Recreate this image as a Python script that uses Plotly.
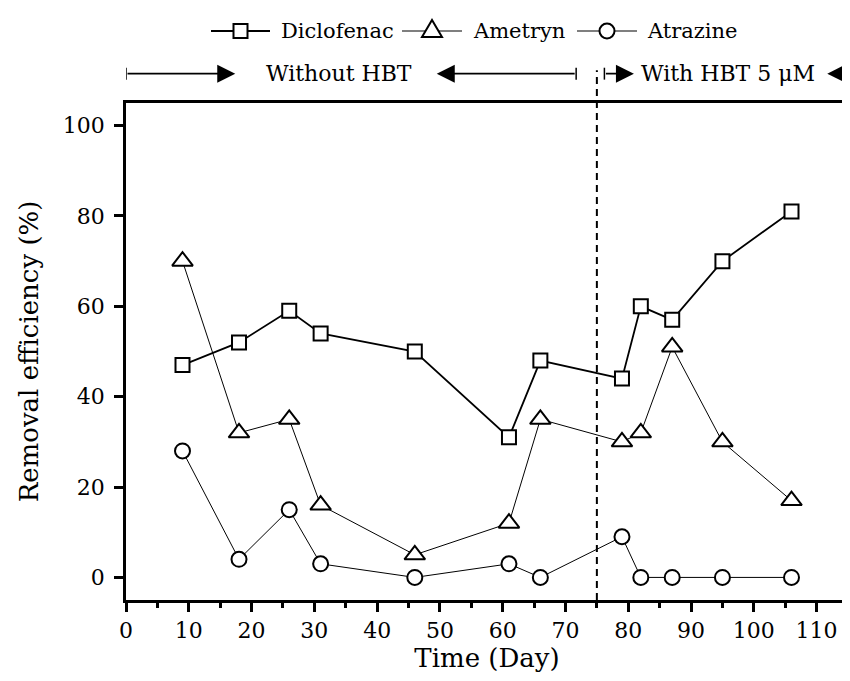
import plotly.graph_objects as go

days = [9, 18, 26, 31, 46, 61, 66, 79, 82, 87, 95, 106]
diclofenac = [47, 52, 59, 54, 50, 31, 48, 44, 60, 57, 70, 81]
ametryn = [70, 32, 35, 16, 5, 12, 35, 30, 32, 51, 30, 17]
atrazine = [28, 4, 15, 3, 0, 3, 0, 9, 0, 0, 0, 0]

x_ticks = list(range(0, 111, 10))
y_ticks = list(range(0, 101, 20))
switch_day = 75

FONT = "DejaVu Serif"
L, R, T, B = 118, 10, 95, 89
W, H = 850, 681
PW, PH = W - L - R, H - T - B


def px_x(p):
    return (p - L) / PW


def px_y(p):
    return 1 + (T - p) / PH


fig = go.Figure()
series = [
    ("Diclofenac", diclofenac, "square", 14, 1.8),
    ("Ametryn", ametryn, "triangle-up", 18, 1.0),
    ("Atrazine", atrazine, "circle", 15, 1.0),
]
for name, vals, sym, size, lw in series:
    fig.add_trace(go.Scatter(
        x=days, y=vals, name=name, mode="lines+markers",
        line=dict(color="black", width=lw),
        marker=dict(symbol=sym, size=size, color="white",
                    line=dict(color="black", width=2)),
        cliponaxis=False, showlegend=False,
    ))

# custom legend row: (line start px, line end px, text start px)
legend_y = px_y(23)
legend_items = [
    ("Diclofenac", 203, 262, 271, "square", 1.8),
    ("Ametryn", 394, 454, 463, "triangle", 1.2),
    ("Atrazine", 569, 629, 637, "circle", 1.2),
]
for name, l0, l1, tx, sym, lw in legend_items:
    fig.add_shape(type="line", xref="paper", yref="paper", x0=px_x(l0), x1=px_x(l1),
                  y0=legend_y, y1=legend_y, line=dict(color="black", width=lw))
    cx = px_x((l0 + l1) / 2)
    common = dict(xref="paper", yref="paper", xsizemode="pixel", ysizemode="pixel",
                  xanchor=cx, yanchor=legend_y, fillcolor="white",
                  line=dict(color="black", width=2))
    if sym == "square":
        fig.add_shape(type="rect", x0=-7, x1=7, y0=-7, y1=7, **common)
    elif sym == "circle":
        fig.add_shape(type="circle", x0=-7.5, x1=7.5, y0=-7.5, y1=7.5, **common)
    else:
        fig.add_shape(type="path", path="M-10,-6 L10,-6 L0,11 Z", **common)
    fig.add_annotation(x=px_x(tx), y=legend_y, xref="paper", yref="paper", text=name,
                       showarrow=False, xanchor="left", yanchor="middle",
                       font=dict(family=FONT, size=21, color="black"))

fig.add_shape(type="line", xref="x", yref="paper", x0=switch_day, x1=switch_day,
              y0=0, y1=1.066, line=dict(color="black", width=2, dash="7px,5px"))

ARROW_Y = 1.059
arrows = [(0, 17.4), (71.7, 49.5), (76.2, 80.9), (115, 111.7)]
for tail, tip in arrows:
    fig.add_annotation(x=tip, y=ARROW_Y, xref="x", yref="paper",
                       ax=tail, ay=0, axref="x", ayref="pixel",
                       text="", showarrow=True, arrowhead=2, arrowsize=2.0,
                       arrowwidth=1.8, arrowcolor="black", standoff=0, startstandoff=0)
    fig.add_shape(type="line", xref="x", yref="paper", x0=tail, x1=tail,
                  y0=ARROW_Y - 0.012, y1=ARROW_Y + 0.012,
                  line=dict(color="black", width=1.5))

for xpos, label in [(34.0, "Without HBT"), (95.9, "With HBT 5 μM")]:
    fig.add_annotation(x=xpos, y=ARROW_Y, xref="x", yref="paper", text=label,
                       showarrow=False, xanchor="center", yanchor="middle",
                       font=dict(family=FONT, size=22, color="black"))

axis_common = dict(
    showline=True, linecolor="black", linewidth=2.5, mirror=True,
    ticks="outside", ticklen=9, tickwidth=2.5, tickcolor="black",
    showgrid=False, zeroline=False,
    tickfont=dict(family=FONT, size=22, color="black"),
)

fig.update_xaxes(**axis_common, range=[0, 115], tickvals=x_ticks,
                 minor=dict(ticks="outside", ticklen=5, tickwidth=2.5,
                            tickcolor="black", dtick=5, tick0=0, showgrid=False),
                 title=dict(text="Time (Day)", font=dict(family=FONT, size=26, color="black"),
                            standoff=2))
fig.update_yaxes(**axis_common, range=[-5, 105], tickvals=y_ticks, ticklabelstandoff=5,
                 title=dict(text="Removal efficiency (%)",
                            font=dict(family=FONT, size=26, color="black"), standoff=17))

fig.update_layout(
    width=W, height=H,
    margin=dict(l=L, r=R, t=T, b=B, autoexpand=False),
    paper_bgcolor="white", plot_bgcolor="white",
    font=dict(family=FONT, color="black"),
    showlegend=False,
)

fig.write_html("out.html")
